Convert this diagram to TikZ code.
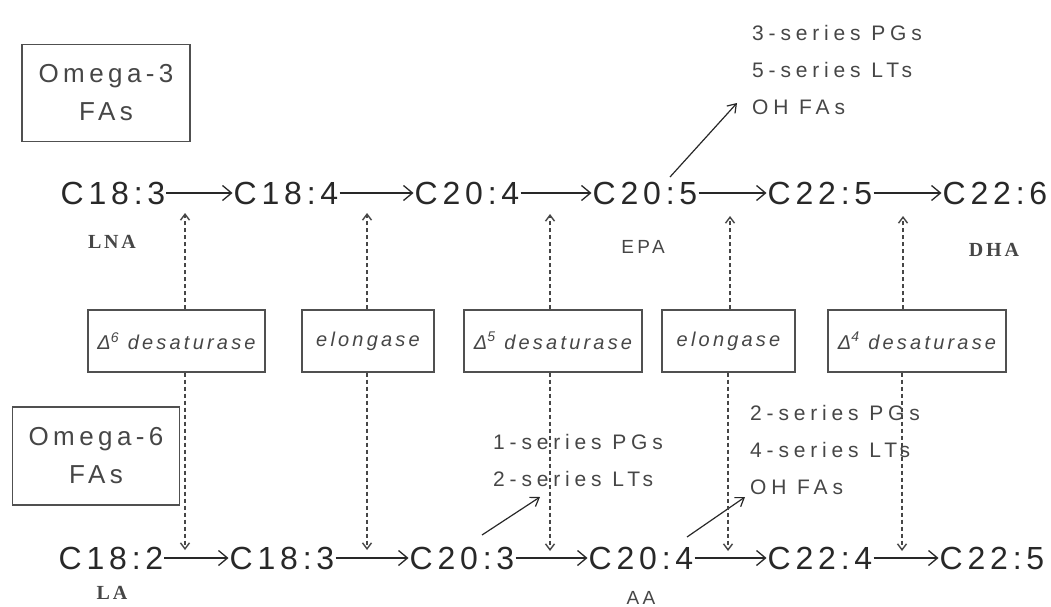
\documentclass[tikz,border=0pt]{standalone}
\usepackage{fontspec}
\usetikzlibrary{arrows.meta}
\newfontfamily\chemf[LetterSpace=15]{Liberation Sans}
\newfontfamily\omegaf[LetterSpace=17]{Liberation Sans}
\newfontfamily\prodf[LetterSpace=23]{Liberation Sans}
\newfontfamily\enzf[LetterSpace=16]{Liberation Sans}
\newfontfamily\abbrserif[LetterSpace=14]{Liberation Serif}
\newfontfamily\abbrsans[LetterSpace=18]{Liberation Sans}
\definecolor{ink}{RGB}{40,40,40}
\definecolor{soft}{RGB}{70,70,70}
\definecolor{frame}{RGB}{80,80,80}
\tikzset{
  chem/.style={inner sep=1pt, text=ink, font=\chemf\fontsize{32}{36}\selectfont},
  omegabox/.style={draw=frame, line width=1.2pt, align=center, text=soft,
    minimum width=168pt, minimum height=97pt, inner sep=0pt,
    font=\omegaf\fontsize{26}{38}\selectfont},
  enzbox/.style={draw=frame, line width=1.2pt, text=soft, minimum height=62pt, inner sep=0pt,
    font=\enzf\itshape\fontsize{20}{24}\selectfont},
  prod/.style={align=left, anchor=west, inner sep=0pt, text=soft,
    font=\prodf\fontsize{21}{37}\selectfont},
  abbrs/.style={inner sep=0pt, text=soft, font=\abbrserif\bfseries\fontsize{20}{22}\selectfont},
  abbrss/.style={inner sep=0pt, text=soft, font=\abbrsans\fontsize{19}{22}\selectfont},
  flow/.style={draw=ink, line width=1.3pt, -{Straight Barb[length=9pt,width=15pt]}},
  feed/.style={draw=ink, line width=1.2pt, -{Straight Barb[length=8pt,width=11pt]}},
  enz/.style={draw=soft, line width=1.4pt, dash pattern=on 4pt off 3pt,
    -{Straight Barb[length=6pt,width=9pt]}}
}
\begin{document}
\begin{tikzpicture}[x=1pt,y=-1pt]
\useasboundingbox (0,0) rectangle (1051,607);

% family boxes
\node[omegabox] (om3) at (106,93) {Omega-3\\FAs};
\node[omegabox, minimum width=167pt, minimum height=98pt] (om6) at (96,456) {Omega-6\\FAs};

% omega-3 row
\node[chem] (t1) at (113,193) {C18:3};
\node[chem] (t2) at (286,193) {C18:4};
\node[chem] (t3) at (467,193) {C20:4};
\node[chem] (t4) at (645,193) {C20:5};
\node[chem] (t5) at (820,193) {C22:5};
\node[chem] (t6) at (995,193) {C22:6};

% omega-6 row
\node[chem] (b1) at (111,558) {C18:2};
\node[chem] (b2) at (282,558) {C18:3};
\node[chem] (b3) at (462,558) {C20:3};
\node[chem] (b4) at (641,558) {C20:4};
\node[chem] (b5) at (820,558) {C22:4};
\node[chem] (b6) at (992,558) {C22:5};

% abbreviations
\node[abbrs] (lna) at (112,242) {LNA};
\node[abbrss] (epa) at (643,247) {EPA};
\node[abbrs] (dha) at (994,250) {DHA};
\node[abbrs] (la) at (112,593) {LA};
\node[abbrss] (aa) at (641,598) {AA};

% enzymes
\node[enzbox, minimum width=177pt] (e1) at (176.5,341) {Δ\textsuperscript{6} desaturase};
\node[enzbox, minimum width=132pt] (e2) at (368,341) {elongase};
\node[enzbox, minimum width=178pt] (e3) at (553,341) {Δ\textsuperscript{5} desaturase};
\node[enzbox, minimum width=133pt] (e4) at (728.5,341) {elongase};
\node[enzbox, minimum width=178pt] (e5) at (917,341) {Δ\textsuperscript{4} desaturase};

% products
\node[prod] (p3) at (752,70) {3-series PGs\\5-series LTs\\OH FAs};
\node[prod] (p1) at (493,460) {1-series PGs\\2-series LTs};
\node[prod] (p2) at (750,450) {2-series PGs\\4-series LTs\\OH FAs};

% main conversions
\draw[flow] (t1) -- (t2);
\draw[flow] (t2) -- (t3);
\draw[flow] (t3) -- (t4);
\draw[flow] (t4) -- (t5);
\draw[flow] (t5) -- (t6);
\draw[flow] (b1) -- (b2);
\draw[flow] (b2) -- (b3);
\draw[flow] (b3) -- (b4);
\draw[flow] (b4) -- (b5);
\draw[flow] (b5) -- (b6);

% eicosanoid branches
\coordinate (s4) at (670,177);
\coordinate (q3) at (737,103);
\coordinate (s3) at (482,535);
\coordinate (q1) at (540,497);
\coordinate (s5) at (687,537);
\coordinate (q2) at (745,497);
\draw[feed] (s4) -- (q3);
\draw[feed] (s3) -- (q1);
\draw[feed] (s5) -- (q2);

% enzyme actions
\coordinate (u1) at (185,213);
\coordinate (u2) at (367,213);
\coordinate (u3) at (550,214);
\coordinate (u4) at (730,216);
\coordinate (u5) at (903,216);
\coordinate (d1) at (185,550);
\coordinate (d2) at (367,550);
\coordinate (d3) at (550,551);
\coordinate (d4) at (728,551);
\coordinate (d5) at (902,551);
\draw[enz] (e1.north -| u1) -- (u1);
\draw[enz] (e2.north -| u2) -- (u2);
\draw[enz] (e3.north -| u3) -- (u3);
\draw[enz] (e4.north -| u4) -- (u4);
\draw[enz] (e5.north -| u5) -- (u5);
\draw[enz] (e1.south -| d1) -- (d1);
\draw[enz] (e2.south -| d2) -- (d2);
\draw[enz] (e3.south -| d3) -- (d3);
\draw[enz] (e4.south -| d4) -- (d4);
\draw[enz] (e5.south -| d5) -- (d5);
\end{tikzpicture}
\end{document}
